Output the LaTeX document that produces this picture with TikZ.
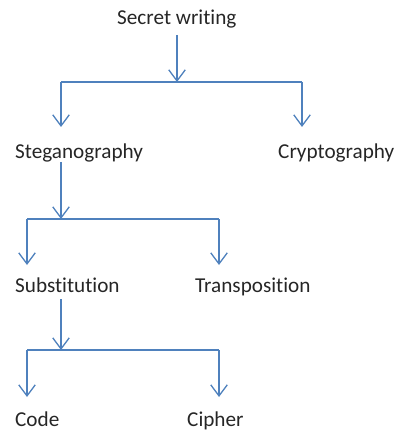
\documentclass[tikz,border=0pt]{standalone}
\usepackage{fontspec}
\setmainfont{Carlito}[Ligatures={NoCommon}]
\usetikzlibrary{positioning,arrows.meta}
\definecolor{linkblue}{HTML}{4F81BD}
\tikzset{
  treearrow/.style={-{Straight Barb[length=3.9mm, width=5.8mm]}, line width=1.3pt, linkblue},
  treeline/.style={line width=1.3pt, linkblue},
  termlabel/.style={anchor=base west, inner sep=0pt, font=\fontsize{21.2}{25}\selectfont, text=black!85}
}

\begin{document}
\begin{tikzpicture}[x=1pt, y=-1pt]
      \useasboundingbox (0,0) rectangle (395,430);
      % terms
      \node[termlabel] (sw) at (117,25) {Secret writing};
      \node[termlabel] (steg) at (15,159) {Steganography};
      \node[termlabel] (crypt) at (278,159) {Cryptography};
      \node[termlabel] (subs) at (15,292) {Substitution};
      \node[termlabel] (trans) at (195,292) {Transposition};
      \node[termlabel] (code) at (15,426) {Code};
      \node[termlabel] (ciph) at (187,426) {Cipher};
      % junctions and arrow ends
      \coordinate (j1) at (177,82);
      \coordinate (steg-in) at (61,127);
      \coordinate (crypt-in) at (302,127);
      \coordinate (j2) at (61,219);
      \coordinate (subs-in) at (27,265);
      \coordinate (trans-in) at (219,265);
      \coordinate (j3) at (61,350);
      \coordinate (code-in) at (27,397);
      \coordinate (ciph-in) at (219,397);
      % level 1
      \draw[treearrow] (j1 |- 0,35) -- (j1);
      \draw[treeline] (steg-in |- j1) -- (crypt-in |- j1);
      \draw[treearrow] (steg-in |- j1) -- (steg-in);
      \draw[treearrow] (crypt-in |- j1) -- (crypt-in);
      % level 2
      \draw[treearrow] (j2 |- 0,162) -- (j2);
      \draw[treeline] (subs-in |- j2) -- (trans-in |- j2);
      \draw[treearrow] (subs-in |- j2) -- (subs-in);
      \draw[treearrow] (trans-in |- j2) -- (trans-in);
      % level 3
      \draw[treearrow] (j3 |- 0,299) -- (j3);
      \draw[treeline] (code-in |- j3) -- (ciph-in |- j3);
      \draw[treearrow] (code-in |- j3) -- (code-in);
      \draw[treearrow] (ciph-in |- j3) -- (ciph-in);
    \end{tikzpicture}
\end{document}
